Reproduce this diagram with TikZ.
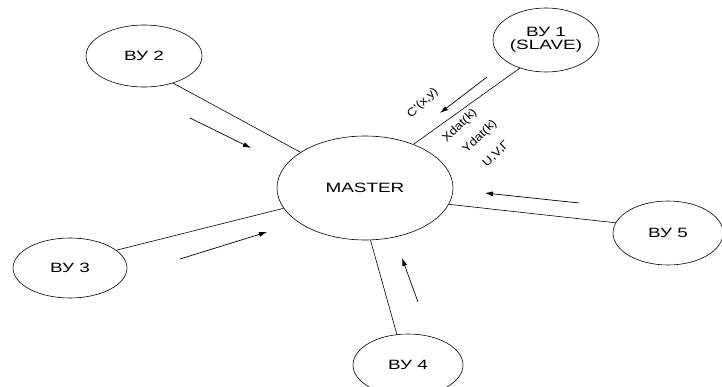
\documentclass[tikz,border=0pt]{standalone}
\usepackage{fontspec}
\setmainfont{Liberation Sans}
\newfontfamily\widefont[FakeStretch=1.4]{Liberation Sans}
\newfontfamily\sigfont[FakeStretch=1.15]{Liberation Sans}
\usetikzlibrary{shapes.geometric,arrows.meta}
\tikzset{
  unit/.style={draw, ellipse, line width=0.6pt, inner sep=0pt, font=\widefont\fontsize{13.5}{15}\selectfont, align=center},
  link/.style={line width=0.6pt},
  flow/.style={line width=0.7pt, -{Latex[length=8pt,width=5pt]}},
  sig/.style={font=\sigfont\fontsize{11.5}{13}\selectfont, rotate=44, inner sep=0pt}
}
\begin{document}
\begin{tikzpicture}[x=1pt,y=-1pt]
\useasboundingbox[fill=white] (0,0) rectangle (722,387);
\node[unit, minimum width=176pt, minimum height=104pt] (M) at (365,188) {MASTER};
\node[unit, minimum width=106pt, minimum height=64pt] (v1) at (546,40) {ВУ 1\\[-2pt](SLAVE)};
\node[unit, minimum width=116pt, minimum height=62pt] (v2) at (144,56) {ВУ 2};
\node[unit, minimum width=114pt, minimum height=60pt] (v3) at (70,268) {ВУ 3};
\node[unit, minimum width=110pt, minimum height=62pt] (v4) at (408,365) {ВУ 4};
\node[unit, minimum width=110pt, minimum height=64pt] (v5) at (668,233) {ВУ 5};

\draw[link] (v1.227) -- (M.42.6);
\draw[link] (v2.317) -- (M.151.8);
\draw[link] (v3.21.8) -- (M.194.6);
\draw[link] (v4.110) -- (M.276);
\draw[link] (v5.169.7) -- (M.349);

\coordinate (a1s) at (487,77);  \coordinate (a1e) at (440,113);
\coordinate (a2s) at (190,118); \coordinate (a2e) at (251,148);
\coordinate (a3s) at (180,259); \coordinate (a3e) at (267,232);
\coordinate (a4s) at (418,302); \coordinate (a4e) at (402,258);
\coordinate (a5s) at (579,203); \coordinate (a5e) at (485,193);
\draw[flow] (a1s) -- (a1e);
\draw[flow] (a2s) -- (a2e);
\draw[flow] (a3s) -- (a3e);
\draw[flow] (a4s) -- (a4e);
\draw[flow] (a5s) -- (a5e);

\node[sig] (l1) at (423,103) {C'(x,y)};
\node[sig] (l2) at (460,126) {Xdat(k)};
\node[sig] (l3) at (480,137) {Ydat(k)};
\node[sig] (l4) at (496,154) {U,V,Г};
\end{tikzpicture}
\end{document}
